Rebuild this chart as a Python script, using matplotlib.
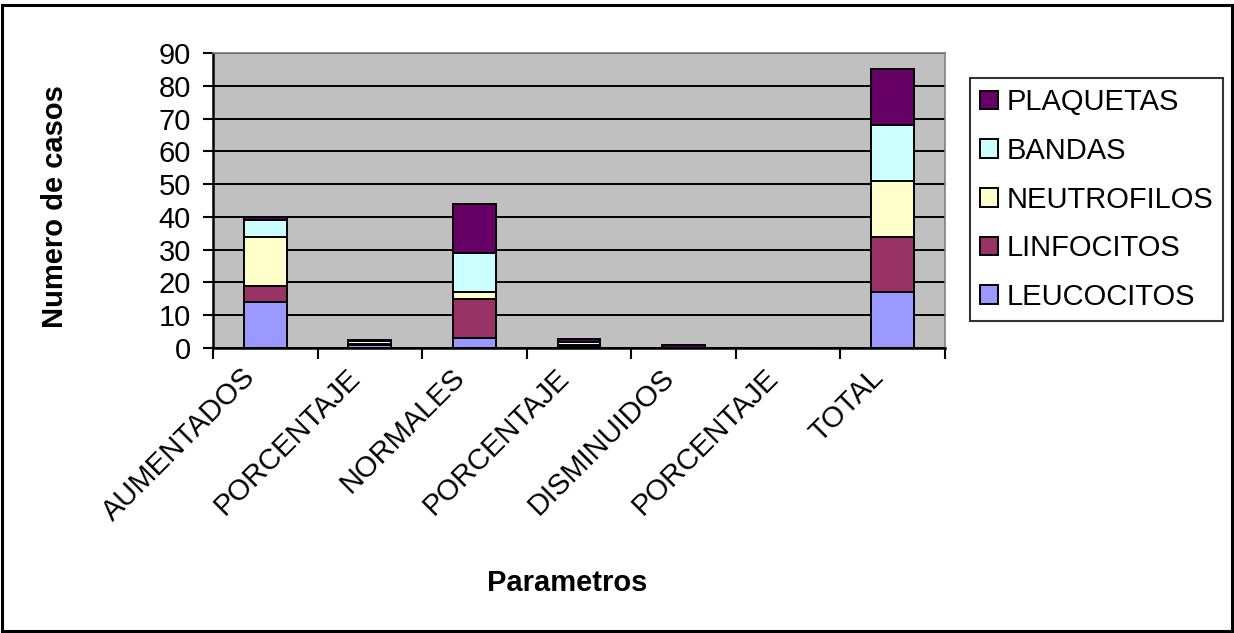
import matplotlib
matplotlib.use('Agg')
import matplotlib.pyplot as plt
from matplotlib.patches import Rectangle
from matplotlib.transforms import ScaledTranslation
import numpy as np

plt.rcParams['font.family'] = ['Liberation Sans', 'DejaVu Sans']

categorias = ['AUMENTADOS', 'PORCENTAJE', 'NORMALES', 'PORCENTAJE',
              'DISMINUIDOS', 'PORCENTAJE', 'TOTAL']
leucocitos = [14, 0.82, 3, 0.18, 0, 0, 17]
linfocitos = [5, 0.29, 12, 0.71, 0, 0, 17]
neutrofilos = [15, 0.88, 2, 0.12, 0, 0, 17]
bandas = [5, 0.29, 12, 0.71, 0, 0, 17]
plaquetas = [1, 0.06, 15, 0.88, 1, 0.06, 17]

series = [
    ('LEUCOCITOS', leucocitos, '#9999FF'),
    ('LINFOCITOS', linfocitos, '#993366'),
    ('NEUTROFILOS', neutrofilos, '#FFFFCC'),
    ('BANDAS', bandas, '#CCFFFF'),
    ('PLAQUETAS', plaquetas, '#660066'),
]

W, H = 1234, 633
fs = 21
fig = plt.figure(figsize=(W / 100, H / 100), dpi=100)
ax = fig.add_axes([213 / W, 1 - 348 / H, (945 - 213) / W, (348 - 53) / H])
ax.set_facecolor('#C0C0C0')

x = np.arange(len(categorias))
bottom = np.zeros(len(categorias))
handles = []
for nombre, valores, color in series:
    b = ax.bar(x, valores, 0.41, bottom=bottom, color=color,
               edgecolor='black', linewidth=1.4, label=nombre, zorder=3)
    handles.append(b)
    bottom += np.array(valores)

ax.set_ylim(0, 90)
ax.set_xlim(-0.5, len(categorias) - 0.5)
ax.set_yticks(np.arange(0, 91, 10))
ax.yaxis.grid(True, color='black', linewidth=1.4, zorder=1)
ax.set_axisbelow(True)

ax.set_xticks(x)
ax.set_xticks(np.arange(-0.5, len(categorias), 1), minor=True)
ax.tick_params(axis='x', length=0, pad=18)
ax.tick_params(axis='x', which='minor', length=8, width=1.5, direction='out')
ax.tick_params(axis='y', labelsize=fs, length=7, width=1.5, direction='out', pad=9)

# etiquetas inclinadas, ancladas a la derecha de cada categoria
ax.set_xticklabels(categorias, rotation=45, ha='right', va='center',
                   rotation_mode='anchor', fontsize=fs)
desplazamiento = ScaledTranslation(-14 / 100, 0, fig.dpi_scale_trans)
for lbl in ax.get_xticklabels():
    lbl.set_transform(lbl.get_transform() + desplazamiento)

for s in ['top', 'right']:
    ax.spines[s].set_color('#808080')
    ax.spines[s].set_linewidth(1.2)
for s in ['left', 'bottom']:
    ax.spines[s].set_color('black')
    ax.spines[s].set_linewidth(1.8)

fig.text(55 / W, 1 - 207 / H, 'Numero de casos', rotation=90, fontsize=fs,
         fontweight='bold', ha='center', va='center')
fig.text(567 / W, 1 - 583 / H, 'Parametros', fontsize=fs,
         fontweight='bold', ha='center', va='center')

leg = fig.legend(handles[::-1], [s[0] for s in series][::-1],
                 loc='upper left', bbox_to_anchor=(970 / W, 1 - 78 / H),
                 fontsize=fs, frameon=True, fancybox=False,
                 handlelength=0.6, handleheight=0.6, handletextpad=0.3,
                 labelspacing=0.71, borderpad=0.35, borderaxespad=0)
leg.get_frame().set_edgecolor('black')
leg.get_frame().set_linewidth(1.5)

fig.patches.append(Rectangle((1.5 / W, 2.5 / H), 1230 / W, (H - 7) / H,
                             transform=fig.transFigure, fill=False,
                             edgecolor='black', linewidth=2.2))

fig.savefig('out.png', dpi=100, facecolor='white')
